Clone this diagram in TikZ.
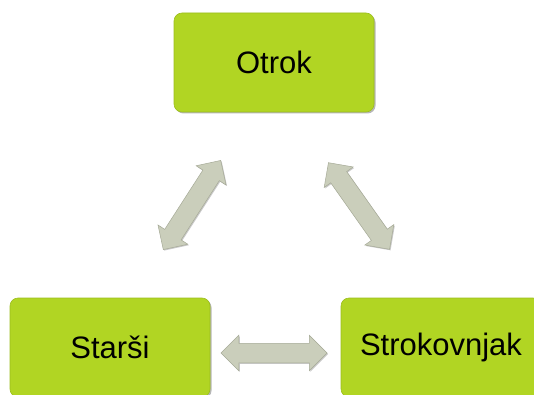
\documentclass[tikz,border=0pt]{standalone}
\usepackage{fontspec}
\setmainfont{Liberation Sans}
\usetikzlibrary{shapes.arrows,shadows}
\definecolor{boxgreen}{HTML}{B1D523}
\definecolor{boxedge}{HTML}{9DBE1E}
\definecolor{arrowfill}{HTML}{CACEBB}
\definecolor{arrowedge}{HTML}{A6AA97}
\tikzset{
  box/.style={draw=boxedge, line width=0.6pt, fill=boxgreen, rounded corners=8pt,
    minimum width=200pt, minimum height=99pt, inner sep=0pt,
    font=\fontsize{31}{37}\selectfont,
    drop shadow={shadow xshift=1.5pt, shadow yshift=-1.5pt, fill=black!70, opacity=0.4}},
  dbl/.style={double arrow, fill=arrowfill, draw=arrowedge, line width=0.5pt,
    inner xsep=0pt, inner ysep=9.5pt, minimum height=106pt,
    double arrow head extend=8pt, double arrow tip angle=90,
    drop shadow={shadow xshift=1pt, shadow yshift=-1pt, fill=black!60, opacity=0.35}}
}
\begin{document}
\begin{tikzpicture}[x=1pt,y=1pt]
\useasboundingbox (0,0) rectangle (534,394);
\fill[white] (0,0) rectangle (534,394);
\node[box] (otrok) at (274,331.5) {Otrok};
\node[box] (starsi) at (110,46.5) {Starši};
\node[box] (strok) at (441,46.5) {Strokovnjak};
\node[dbl, rotate=57.2] (a1) at (192,189) {};
\node[dbl, rotate=-54.8] (a2) at (359,188) {};
\node[dbl] (a3) at (274,41) {};
\end{tikzpicture}
\end{document}
